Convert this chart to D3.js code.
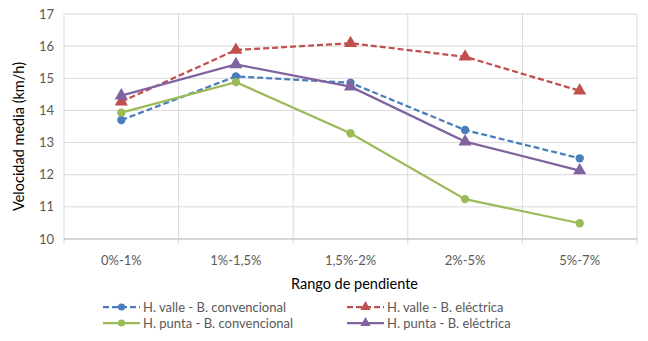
<!DOCTYPE html>
<html><head><meta charset="utf-8">
<script src="https://cdn.jsdelivr.net/npm/d3@7"></script>
<style>body{margin:0;background:#fff;} text{font-family:Lato,"Open Sans",sans-serif;}</style>
</head><body>
<svg id="c" width="648" height="341"></svg>
<script>
const categories = ["0%-1%","1%-1,5%","1,5%-2%","2%-5%","5%-7%"];
const yTicks = [10,11,12,13,14,15,16,17];
const seriesNames = ["H. valle - B. convencional","H. valle - B. eléctrica","H. punta - B. convencional","H. punta - B. eléctrica"];
const valleConv = [13.70,15.06,14.86,13.39,12.51];
const valleElec = [14.27,15.88,16.09,15.67,14.61];
const puntaConv = [13.93,14.88,13.29,11.24,10.49];
const puntaElec = [14.46,15.43,14.74,13.03,12.13];
const colors = ["#4A7EBB","#C0504D","#9BBB59","#8064A2"];
const dashed = [true,true,false,false];
const markers = ["circle","triangle","circle","triangle"];
const allSeries = [valleConv,valleElec,puntaConv,puntaElec];

const svg = d3.select("#c");
const L=64,R=637,T=14,B=239;
const x = d3.scaleBand().domain(categories).range([L,R]);
const y = d3.scaleLinear().domain([10,17]).range([B,T]);

svg.append("g").selectAll("line").data(yTicks).join("line")
  .attr("x1",L).attr("x2",R).attr("y1",d=>y(d)).attr("y2",d=>y(d))
  .attr("stroke","#d9d9d9").attr("stroke-width",1);
const bounds = categories.map(c=>x(c)).concat([R]);
svg.append("g").selectAll("line").data(bounds).join("line")
  .attr("x1",d=>d).attr("x2",d=>d).attr("y1",T).attr("y2",B+5)
  .attr("stroke","#d9d9d9").attr("stroke-width",1);
svg.append("line").attr("x1",L).attr("x2",R).attr("y1",B).attr("y2",B).attr("stroke","#bfbfbf");

svg.append("g").selectAll("text").data(yTicks).join("text")
  .attr("x",L-10).attr("y",d=>y(d)).attr("dy","0.35em").attr("text-anchor","end")
  .attr("font-size",13).attr("fill","#595959").text(d=>d);
svg.append("g").selectAll("text").data(categories).join("text")
  .attr("x",d=>x(d)+x.bandwidth()/2).attr("y",265).attr("text-anchor","middle")
  .attr("font-size",13).attr("fill","#595959").text(d=>d);
svg.append("text").attr("x",(L+R)/2+4).attr("y",289).attr("text-anchor","middle")
  .attr("font-size",14.5).attr("fill","#000").text("Rango de pendiente");
svg.append("text").attr("transform",`translate(24,${(T+B)/2+10}) rotate(-90)`).attr("text-anchor","middle")
  .attr("font-size",14.5).attr("fill","#000").text("Velocidad media (km/h)");

const line = d3.line().x((d,i)=>x(categories[i])+x.bandwidth()/2).y(d=>y(d));
const tri = d3.symbol().type(d3.symbolTriangle).size(75);
const circ = d3.symbol().type(d3.symbolCircle).size(55);

allSeries.forEach((s,k)=>{
  svg.append("path").datum(s).attr("d",line).attr("fill","none")
    .attr("stroke",colors[k]).attr("stroke-width",2.25)
    .attr("stroke-dasharray",dashed[k]?"6,3":null);
  svg.append("g").selectAll("path").data(s).join("path")
    .attr("transform",(d,i)=>`translate(${x(categories[i])+x.bandwidth()/2},${y(d)})`)
    .attr("d",markers[k]==="circle"?circ():tri()).attr("fill",colors[k]);
});

const legPos = [[103,307],[347,307],[103,323],[347,323]];
seriesNames.forEach((n,k)=>{
  const [lx,ly]=legPos[k];
  const g=svg.append("g");
  g.append("line").attr("x1",lx).attr("x2",lx+37).attr("y1",ly).attr("y2",ly)
    .attr("stroke",colors[k]).attr("stroke-width",2.25).attr("stroke-dasharray",dashed[k]?"6,3":null);
  g.append("path").attr("transform",`translate(${lx+18.5},${ly})`)
    .attr("d",markers[k]==="circle"?d3.symbol().type(d3.symbolCircle).size(40)():d3.symbol().type(d3.symbolTriangle).size(45)())
    .attr("fill",colors[k]);
  g.append("text").attr("x",lx+40).attr("y",ly).attr("dy","0.35em").attr("font-size",13)
    .attr("fill","#595959").text(n);
});
</script>
</body></html>
